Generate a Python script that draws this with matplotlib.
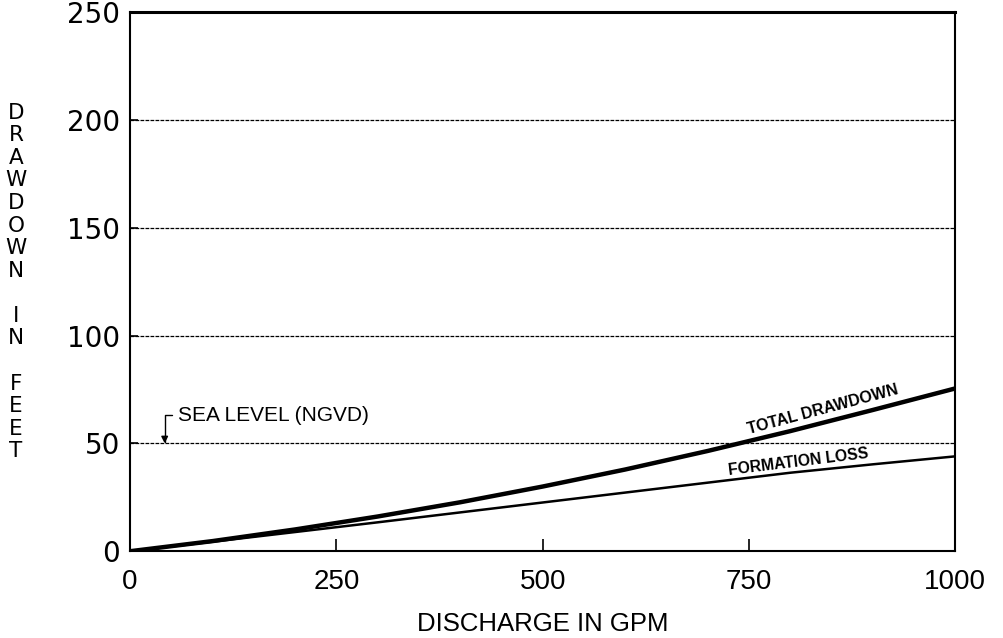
import matplotlib
matplotlib.use("Agg")
import matplotlib.pyplot as plt

plt.rcParams["font.family"] = ["Liberation Sans", "DejaVu Sans"]

# discharge (gpm) and drawdown (ft)
discharge = [0, 100, 200, 300, 400, 500, 600, 700, 800, 900, 1000]
total_drawdown = [0, 4.7, 10.1, 16.1, 22.7, 30.0, 37.9, 46.5, 55.7, 65.5, 75.5]
formation_loss = [0, 4.4, 8.9, 13.4, 18.0, 22.6, 27.2, 31.8, 36.4, 40.3, 44.0]

sea_level = 50
x_ticks = [0, 250, 500, 750, 1000]
y_ticks = [0, 50, 100, 150, 200, 250]

fig = plt.figure(figsize=(10.04, 6.38), dpi=100)
ax = fig.add_axes([0.1295, 0.136, 0.822, 0.845])

ax.plot(discharge, total_drawdown, color="black", lw=3.2, solid_capstyle="butt")
ax.plot(discharge, formation_loss, color="black", lw=1.8, solid_capstyle="butt")

# dashed horizontal grid
for y in y_ticks[1:-1]:
    ax.axhline(y, color="black", lw=0.9, ls=(0, (3, 1)), zorder=0)

ax.set_xlim(0, 1000)
ax.set_ylim(0, 250)
ax.set_xticks(x_ticks)
ax.set_yticks(y_ticks)
ax.set_xticklabels([str(v) for v in x_ticks], fontsize=20)
ax.set_yticklabels([str(v) for v in y_ticks], fontsize=20, family="DejaVu Sans")
ax.tick_params(axis="x", direction="in", length=9, width=1.2, pad=13)
ax.tick_params(axis="y", direction="in", length=6, width=1.2, pad=7)

for side in ["left", "right", "bottom"]:
    ax.spines[side].set_linewidth(1.5)
ax.spines["top"].set_linewidth(2.2)

ax.set_xlabel("DISCHARGE IN GPM", fontsize=18.5, labelpad=12)

# stacked vertical y-axis label
ylabel = "\n".join(list("DRAWDOWN IN FEET"))
fig.text(0.016, 0.558, ylabel, fontsize=15.5, ha="center", va="center",
         linespacing=1.16, family="DejaVu Sans")

# curve labels
ax.text(840, 65.5, "TOTAL DRAWDOWN", fontsize=11.5, fontweight="bold",
        rotation=15, ha="center", va="center", rotation_mode="anchor")
ax.text(810, 41.5, "FORMATION LOSS", fontsize=11.3, fontweight="bold",
        rotation=7, ha="center", va="center", rotation_mode="anchor")

# sea level callout
ax.annotate("SEA LEVEL (NGVD)", xy=(42, sea_level), xytext=(58, 63),
            fontsize=15, ha="left", va="center",
            arrowprops=dict(arrowstyle="-|>", color="black", lw=1.0,
                            connectionstyle="angle,angleA=180,angleB=90,rad=0",
                            relpos=(0, 0.5), shrinkA=2, shrinkB=0,
                            mutation_scale=10))

fig.savefig("out.png", dpi=100)
